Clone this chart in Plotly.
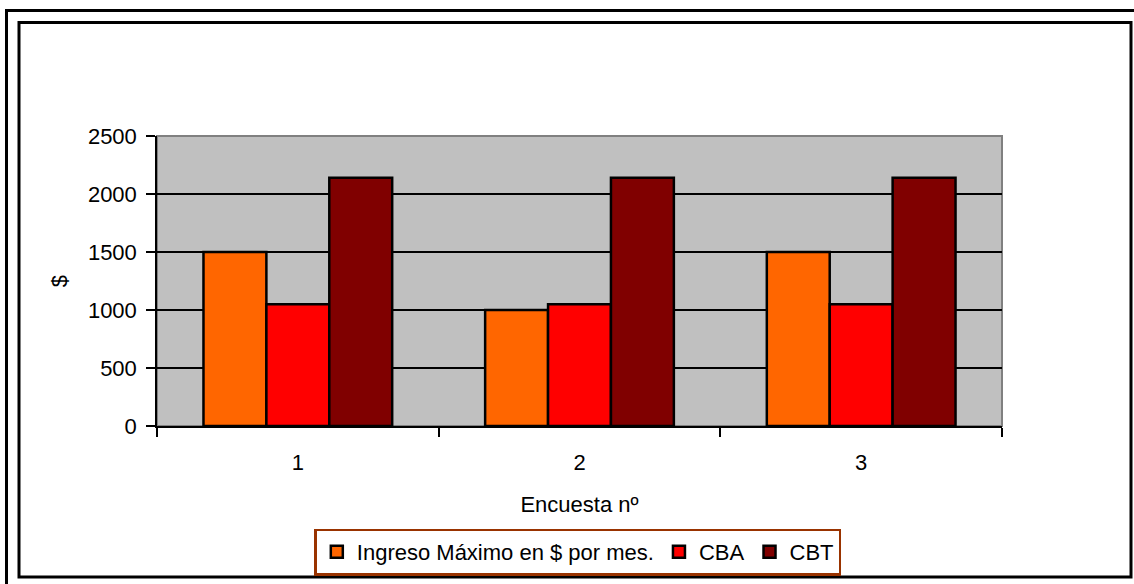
import plotly.graph_objects as go

categories = ["1", "2", "3"]
ingreso = [1500, 1000, 1500]
cba = [1050, 1050, 1050]
cbt = [2140, 2140, 2140]
series_names = ["Ingreso Máximo en $ por mes.", "CBA", "CBT"]
colors = ["#FF6600", "#FF0000", "#800000"]

W, H = 1134, 584
L, R, T, B = 157, 132, 136, 158
pw, ph = W - L - R, H - T - B

def px_x(x):
    return (x - L) / pw

def px_y(y):
    return (H - B - y) / ph

fig = go.Figure()
for name, vals, col in zip(series_names, [ingreso, cba, cbt], colors):
    fig.add_trace(go.Bar(x=categories, y=vals, name=name,
                         marker=dict(color=col, line=dict(color="black", width=2.5))))

font = dict(family="Liberation Sans, Arial, sans-serif", size=22, color="black")

fig.update_layout(
    width=W, height=H,
    margin=dict(l=L, r=R, t=T, b=B, autoexpand=False),
    paper_bgcolor="white",
    plot_bgcolor="#C0C0C0",
    font=font,
    barmode="group",
    bargap=0.33,
    bargroupgap=0,
    showlegend=True,
    legend=dict(orientation="h", x=0.498, xanchor="center", y=px_y(528.5), yanchor="top",
                bordercolor="#993300", borderwidth=2.5, bgcolor="white",
                font=font, itemwidth=30, traceorder="normal"),
    xaxis=dict(type="category", showline=True, linecolor="black", linewidth=1.5,
               ticks="outside", tickson="boundaries", ticklen=9, tickcolor="black",
               tickwidth=1.5, showgrid=False, ticklabelstandoff=16, automargin=False,
               title=dict(text="Encuesta nº", font=font, standoff=22)),
    yaxis=dict(range=[0, 2500], dtick=500, showline=True, linecolor="black", linewidth=1.5,
               ticks="outside", ticklen=9, tickcolor="black", tickwidth=1.5,
               showgrid=True, gridcolor="black", gridwidth=1.5, zeroline=False,
               ticklabelstandoff=5, automargin=False,
               title=dict(text="$", font=font, standoff=14)),
    shapes=[
        dict(type="rect", xref="paper", yref="paper", x0=0, x1=1, y0=0, y1=1,
             line=dict(color="#808080", width=2), layer="below"),
        dict(type="rect", xref="paper", yref="paper",
             x0=px_x(6.5), x1=px_x(1200), y0=px_y(700), y1=px_y(10.5),
             line=dict(color="black", width=3)),
        dict(type="rect", xref="paper", yref="paper",
             x0=px_x(19), x1=px_x(1131), y0=px_y(577), y1=px_y(22.5),
             line=dict(color="black", width=3)),
    ],
)

fig.write_html("out.html", config={"displayModeBar": False},
               post_script="document.body.style.margin='0';document.body.style.overflow='hidden';")
